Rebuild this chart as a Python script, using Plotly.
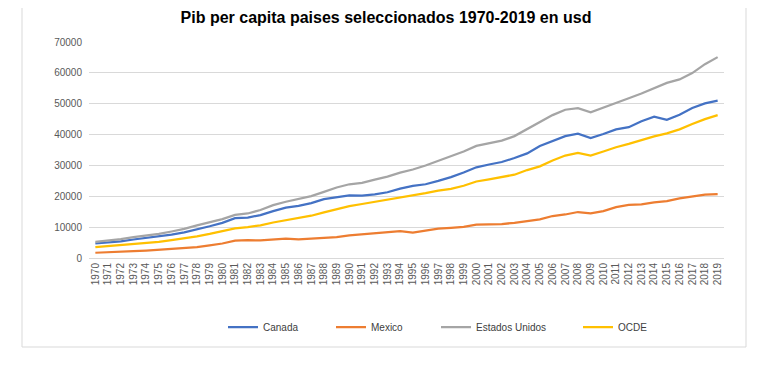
import plotly.graph_objects as go

years = [str(y) for y in range(1970, 2020)]

canada = [4700, 5000, 5400, 6000, 6500, 6900, 7600, 8300, 9200, 10300,
          11400, 12900, 13100, 13900, 15200, 16300, 16900, 17800, 19100, 19800,
          20300, 20200, 20600, 21300, 22500, 23400, 23900, 25000, 26200, 27700,
          29400, 30300, 31100, 32400, 33900, 36300, 38000, 39500, 40300, 38900,
          40200, 41700, 42400, 44300, 45800, 44800, 46400, 48600, 50100, 51000]

mexico = [1700, 1800, 2000, 2200, 2400, 2700, 2900, 3100, 3500, 4100,
          4700, 5600, 5800, 5700, 6000, 6300, 6000, 6200, 6400, 6800,
          7300, 7700, 8000, 8300, 8700, 8200, 8800, 9500, 9800, 10100,
          10800, 10900, 11000, 11400, 12000, 12500, 13600, 14100, 14900, 14500,
          15200, 16500, 17200, 17400, 18000, 18400, 19300, 19900, 20500, 20700]

estados_unidos = [5230, 5610, 6090, 6730, 7230, 7800, 8590, 9450, 10560, 11670,
                  12580, 13980, 14430, 15540, 17120, 18240, 19070, 20040, 21420, 22860,
                  23890, 24340, 25420, 26390, 27690, 28690, 29970, 31460, 32850, 34510,
                  36330, 37130, 38020, 39500, 41710, 44110, 46300, 48050, 48570, 47190,
                  48650, 50070, 51780, 53290, 55120, 56760, 57870, 59910, 62810, 65100]

ocde = [3500, 3800, 4200, 4600, 4900, 5200, 5800, 6300, 7000, 7800,
        8700, 9600, 10000, 10600, 11500, 12300, 12900, 13700, 14800, 15900,
        16800, 17500, 18200, 18700, 19500, 20200, 21000, 21800, 22400, 23400,
        24800, 25500, 26200, 27000, 28500, 29700, 31600, 33200, 34100, 33200,
        34500, 35900, 37000, 38300, 39400, 40400, 41700, 43400, 45000, 46300]

series = [
    ("Canada", canada, "#4472C4"),
    ("Mexico", mexico, "#ED7D31"),
    ("Estados Unidos", estados_unidos, "#A5A5A5"),
    ("OCDE", ocde, "#FFC000"),
]
legend_left_px = [233, 341, 446, 588]  # page x where each legend entry begins

FONT = "Liberation Sans, Arial, sans-serif"

# the page body has an 8px margin; lay the figure out in page coordinates
OFF = 8
W, H = 767 - OFF, 369 - OFF
PLOT_L, PLOT_R, PLOT_T, PLOT_B = 89, 724, 42, 258  # page coordinates
L, R, T, B = PLOT_L - OFF, W - (PLOT_R - OFF), PLOT_T - OFF, H - (PLOT_B - OFF)
pw, ph = W - L - R, H - T - B


def px_x(p):
    return (p - PLOT_L) / pw


def px_y(p):
    return (PLOT_B - p) / ph


fig = go.Figure()
layout_legends = {}
for i, (name, vals, color) in enumerate(series):
    key = "legend" if i == 0 else f"legend{i + 1}"
    fig.add_trace(go.Scatter(x=years, y=vals, mode="lines", name=name,
                             legend=key,
                             line=dict(color=color, width=2.25)))
    layout_legends[key] = dict(
        orientation="h", x=px_x(legend_left_px[i] - 10), xanchor="left",
        y=px_y(327), yanchor="middle", itemwidth=30,
        font=dict(family=FONT, size=10, color="#404040"),
        bgcolor="rgba(0,0,0,0)")

fig.update_layout(
    width=W, height=H,
    margin=dict(l=L, r=R, t=T, b=B),
    paper_bgcolor="white", plot_bgcolor="white",
    font=dict(family=FONT, size=10, color="#595959"),
    title=dict(text="<b>Pib per capita paises seleccionados 1970-2019 en usd</b>",
               x=(386 - OFF) / W, xanchor="center", xref="container",
               y=1 - (17 - OFF) / H, yanchor="middle", yref="container",
               font=dict(family=FONT, size=16, color="#000000")),
    xaxis=dict(type="category", tickangle=-90, showgrid=False, showline=True,
               linecolor="#d9d9d9", linewidth=1, ticks="", range=[-0.5, 49.5],
               tickfont=dict(size=10, color="#595959")),
    yaxis=dict(range=[0, 70000], dtick=10000, tickformat="d", showgrid=True,
               gridcolor="#d9d9d9", gridwidth=1, zeroline=False, showline=False,
               ticks="", ticklabelstandoff=6,
               tickfont=dict(size=10, color="#595959")),
    showlegend=True,
    **layout_legends,
)

fig.add_shape(type="rect", xref="paper", yref="paper",
              x0=px_x(22), x1=px_x(746), y0=px_y(347), y1=px_y(-2),
              line=dict(color="#d9d9d9", width=1), fillcolor="rgba(0,0,0,0)",
              layer="below")

fig.write_html("out.html")
